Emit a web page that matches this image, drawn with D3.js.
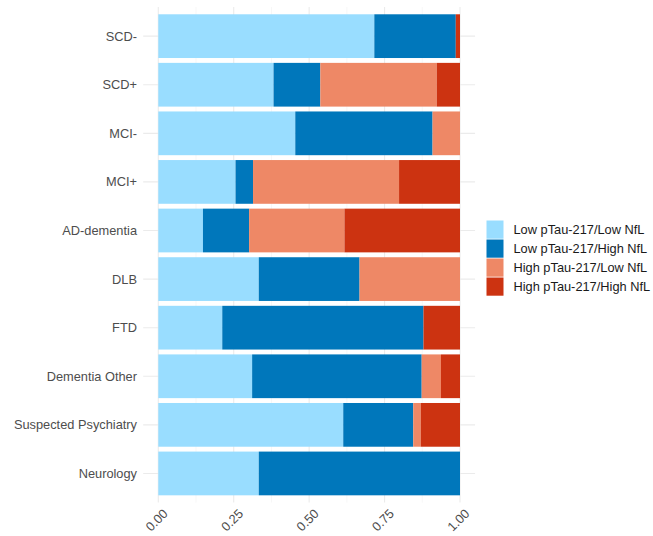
<!DOCTYPE html>
<html>
<head>
<meta charset="utf-8">
<script src="https://cdn.jsdelivr.net/npm/d3@7"></script>
<style>
  html, body { margin: 0; padding: 0; background: #fff; }
  svg { display: block; font-family: "Liberation Sans", Arial, sans-serif; }
</style>
</head>
<body>
<svg id="chart" width="653" height="536"></svg>
<script>
// Diagnostic groups, top to bottom
const categories = ["SCD-", "SCD+", "MCI-", "MCI+", "AD-dementia", "DLB", "FTD",
  "Dementia Other", "Suspected Psychiatry", "Neurology"];

// Biomarker profile groups (stack order, left to right)
const groups = ["Low pTau-217/Low NfL", "Low pTau-217/High NfL",
  "High pTau-217/Low NfL", "High pTau-217/High NfL"];
const colors = ["#99DDFF", "#0077BB", "#EE8866", "#CC3311"];

// Proportion of each diagnostic group in each profile
const lowLow   = [0.716, 0.382, 0.454, 0.256, 0.148, 0.333, 0.212, 0.311, 0.613, 0.333];
const lowHigh  = [0.270, 0.155, 0.455, 0.058, 0.153, 0.334, 0.667, 0.562, 0.232, 0.667];
const highLow  = [0.000, 0.386, 0.091, 0.484, 0.316, 0.333, 0.000, 0.064, 0.025, 0.000];
const highHigh = [0.014, 0.077, 0.000, 0.202, 0.383, 0.000, 0.121, 0.063, 0.130, 0.000];

const xTicks = [0, 0.25, 0.5, 0.75, 1];
const xTickLabels = ["0.00", "0.25", "0.50", "0.75", "1.00"];

const rows = categories.map((c, i) => ({
  category: c,
  [groups[0]]: lowLow[i],
  [groups[1]]: lowHigh[i],
  [groups[2]]: highLow[i],
  [groups[3]]: highHigh[i]
}));

const svg = d3.select("#chart");

const x = d3.scaleLinear().domain([0, 1]).range([158.3, 460]);
const panelLeft = x(-0.05), panelRight = x(1.05);
const y = d3.scaleBand().domain(categories).range([7, 502.6])
  .paddingInner(0.1).paddingOuter(0.15);

const grid = svg.append("g");
// minor vertical grid
[0.125, 0.375, 0.625, 0.875].forEach(v => {
  grid.append("line").attr("x1", x(v)).attr("x2", x(v))
    .attr("y1", 7).attr("y2", 502.6)
    .attr("stroke", "#f2f2f2").attr("stroke-width", 0.6);
});
// major vertical grid
xTicks.forEach(v => {
  grid.append("line").attr("x1", x(v)).attr("x2", x(v))
    .attr("y1", 7).attr("y2", 502.6)
    .attr("stroke", "#ebebeb").attr("stroke-width", 1.1);
});
// horizontal grid
categories.forEach(c => {
  const cy = y(c) + y.bandwidth() / 2;
  grid.append("line").attr("x1", panelLeft).attr("x2", panelRight)
    .attr("y1", cy).attr("y2", cy)
    .attr("stroke", "#ebebeb").attr("stroke-width", 1.1);
});

const stacked = d3.stack().keys(groups)(rows);

svg.append("g").selectAll("g")
  .data(stacked)
  .join("g")
  .attr("fill", (d, i) => colors[i])
  .selectAll("rect")
  .data(d => d)
  .join("rect")
  .attr("x", d => x(d[0]))
  .attr("width", d => Math.max(0, x(d[1]) - x(d[0])))
  .attr("y", d => y(d.data.category))
  .attr("height", y.bandwidth());

// y axis labels
svg.append("g").selectAll("text")
  .data(categories)
  .join("text")
  .attr("x", 137)
  .attr("y", d => y(d) + y.bandwidth() / 2)
  .attr("dy", "0.35em")
  .attr("text-anchor", "end")
  .attr("font-size", "12.8px")
  .attr("fill", "#4d4d4d")
  .text(d => d);

// x axis labels, rotated
svg.append("g").selectAll("text")
  .data(xTicks)
  .join("text")
  .attr("transform", d => `translate(${x(d) + 4},${508}) rotate(-45)`)
  .attr("text-anchor", "end")
  .attr("dy", "0.7em")
  .attr("font-size", "12.8px")
  .attr("fill", "#4d4d4d")
  .text((d, i) => xTickLabels[i]);

// legend
const legend = svg.append("g").attr("transform", "translate(486.5,220.5)");
const keyH = 19, keyW = 17;
groups.forEach((g, i) => {
  legend.append("rect")
    .attr("x", 0).attr("y", i * keyH)
    .attr("width", keyW).attr("height", keyH - 0.8)
    .attr("fill", colors[i]);
  legend.append("text")
    .attr("x", 27).attr("y", i * keyH + keyH / 2)
    .attr("dy", "0.35em")
    .attr("font-size", "12.8px")
    .attr("fill", "#1a1a1a")
    .text(g);
});
</script>
</body>
</html>
